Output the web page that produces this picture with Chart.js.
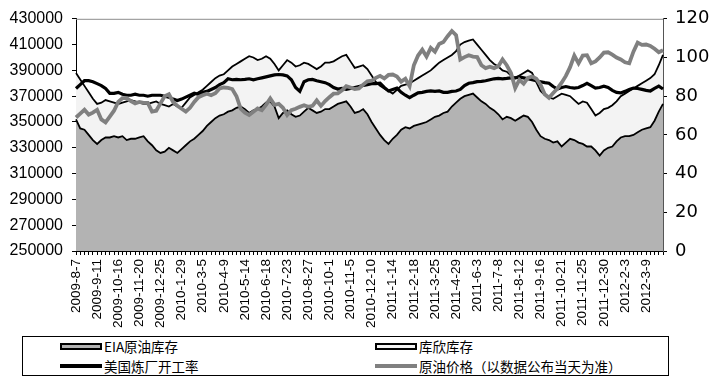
<!DOCTYPE html>
<html>
<head>
<meta charset="utf-8">
<script src="https://cdn.jsdelivr.net/npm/chart.js@4/dist/chart.umd.min.js"></script>
<style>
  html, body { margin: 0; padding: 0; background: #fff; }
  #wrap { position: relative; width: 720px; height: 380px; }
  #legend { position: absolute; left: 22px; top: 336px; width: 647px; height: 40px; border: 1px solid #000; background: #fff; box-sizing: border-box; font-family: "Noto Sans CJK SC", sans-serif; font-size: 13.5px; color: #000; }
  .item { position: absolute; height: 18px; line-height: 18px; white-space: nowrap; }
  .sw { position: absolute; left: 0; }
  .lbl { position: absolute; left: 44px; top: 0; }
</style>
</head>
<body>
<div id="wrap">
  <canvas id="c" width="720" height="380"></canvas>
  <div id="legend"></div>
</div>
<script>
// ---- data ----
const categories = [
"2009-8-7","2009-8-14","2009-8-21","2009-8-28","2009-9-4","2009-9-11","2009-9-18","2009-9-25","2009-10-2","2009-10-9","2009-10-16","2009-10-23","2009-10-30","2009-11-6","2009-11-13","2009-11-20","2009-11-27","2009-12-4","2009-12-11","2009-12-18","2009-12-25",
"2010-1-1","2010-1-8","2010-1-15","2010-1-22","2010-1-29","2010-2-5","2010-2-12","2010-2-19","2010-2-26","2010-3-5","2010-3-12","2010-3-19","2010-3-26","2010-4-2","2010-4-9","2010-4-16","2010-4-23","2010-4-30","2010-5-7","2010-5-14","2010-5-21","2010-5-28","2010-6-4","2010-6-11","2010-6-18","2010-6-25","2010-7-2","2010-7-9","2010-7-16","2010-7-23","2010-7-30","2010-8-6","2010-8-13","2010-8-20","2010-8-27","2010-9-3","2010-9-10","2010-9-17","2010-9-24","2010-10-1","2010-10-8","2010-10-15","2010-10-22","2010-10-29","2010-11-5","2010-11-12","2010-11-19","2010-11-26","2010-12-3","2010-12-10","2010-12-17","2010-12-24","2010-12-31",
"2011-1-7","2011-1-14","2011-1-21","2011-1-28","2011-2-4","2011-2-11","2011-2-18","2011-2-25","2011-3-4","2011-3-11","2011-3-18","2011-3-25","2011-4-1","2011-4-8","2011-4-15","2011-4-22","2011-4-29","2011-5-6","2011-5-13","2011-5-20","2011-5-27","2011-6-3","2011-6-10","2011-6-17","2011-6-24","2011-7-1","2011-7-8","2011-7-15","2011-7-22","2011-7-29","2011-8-5","2011-8-12","2011-8-19","2011-8-26","2011-9-2","2011-9-9","2011-9-16","2011-9-23","2011-9-30","2011-10-7","2011-10-14","2011-10-21","2011-10-28","2011-11-4","2011-11-11","2011-11-18","2011-11-25","2011-12-2","2011-12-9","2011-12-16","2011-12-23","2011-12-30",
"2012-1-6","2012-1-13","2012-1-20","2012-1-27","2012-2-3","2012-2-10","2012-2-17","2012-2-24","2012-3-2","2012-3-9","2012-3-16","2012-3-23","2012-3-30","2012-4-6"
];

const tickLabels = ["2009-8-7","2009-9-11","2009-10-16","2009-11-20","2009-12-25","2010-1-29","2010-3-5","2010-4-9","2010-5-14","2010-6-18","2010-7-23","2010-8-27","2010-10-1","2010-11-5","2010-12-10","2011-1-14","2011-2-18","2011-3-25","2011-4-29","2011-6-3","2011-7-8","2011-8-12","2011-9-16","2011-10-21","2011-11-25","2011-12-30","2012-2-3","2012-3-9"];

const leftTicks = [250000, 270000, 290000, 310000, 330000, 350000, 370000, 390000, 410000, 430000];
const rightTicks = [0, 20, 40, 60, 80, 100, 120];

// EIA crude stocks (thousand barrels)
const eiaStocks = [
352000,345000,344000,340000,336000,333000,336000,338000,338000,339000,338000,339000,336000,337000,337000,338000,339000,335000,332000,328000,
326000,327000,330000,328000,326000,329000,332000,335000,337000,340000,343000,347000,350000,353000,355000,356000,358000,359000,361000,362000,
360000,357000,359000,360000,362000,365000,366000,362000,353000,357000,359000,356000,354000,355000,358000,361000,359000,357000,358000,360000,
360000,362000,364000,365000,366000,362000,357000,358000,360000,356000,350000,345000,340000,336000,333000,337000,340000,344000,346000,345000,
347000,348000,349000,350000,352000,354000,355000,357000,358000,362000,365000,368000,370000,371000,372000,369000,366000,364000,361000,359000,
356000,352000,354000,353000,351000,353000,355000,354000,350000,344000,339000,337000,336000,334000,335000,331000,334000,337000,336000,334000,
333000,331000,331000,328000,324000,328000,330000,331000,335000,338000,339000,339000,340000,342000,344000,345000,346000,351000,358000,364000
];

// Cushing stocks (thousand barrels), stacked on top of EIA stocks
const cushingStocks = [
36000,38000,34000,33000,32000,31000,29000,29000,28000,26000,26000,26000,30000,30000,29000,27000,25000,29000,33000,38000,
38000,36000,32000,36000,36000,32000,33000,34000,34000,33000,32000,31000,31000,31000,31000,31000,32000,34000,34000,35000,
39000,44000,41000,38000,37000,36000,33000,33000,37000,37000,39000,40000,39000,39000,38000,34000,34000,34000,35000,36000,
36000,35000,35000,36000,36000,35000,35000,35000,34000,35000,36000,36000,38000,40000,41000,35000,35000,34000,33000,35000,
35000,36000,37000,38000,38000,39000,41000,41000,42000,40000,40000,42000,42000,42000,42000,41000,40000,38000,37000,36000,
37000,38000,35000,33000,33000,33000,33000,36000,38000,37000,35000,34000,33000,34000,35000,41000,37000,33000,31000,30000,
33000,34000,29000,27000,33000,32000,31000,32000,31000,32000,33000,35000,36000,36000,36000,37000,38000,36000,36000,38000
];

// US refinery utilization (%), right axis
const refineryRate = [
84,86,88,88,87.5,86.5,85.5,84,81.5,81.5,82,81,80.5,80.5,81,80.5,80.5,80,80.5,80.5,
80.5,80,79.5,78.5,77.8,78.5,79.5,80.5,81.5,81,82,82.5,83.5,84.5,86,87,89,88.5,88.7,88.5,
88.7,89,88.5,89,89.5,90,90.5,91,91.2,91,90.5,88.5,84.5,82.5,87.5,88.5,88.7,88,87.5,87,
86,84.5,83.7,84,83.5,84,84.5,85,85.5,86,86.5,86.5,86.7,84.5,82.7,83.5,84.2,82,80.5,79.2,
80.5,81.7,82,82.5,82.7,82.5,82.7,82,82,82.5,82.7,83.5,85.5,86.7,87,87.5,87.7,88,88.5,89,
89.2,89,89.2,89.5,89.5,90,89.5,89,88.5,88,87.5,87,86.7,85,83.7,84.5,85,84.5,84.2,84.5,
85.5,86.7,85.5,84.2,84.5,85.2,84.5,83,82,81.7,82.5,83.5,84.2,84,83.5,83,82.7,84,85.2,83.7
];

// Crude oil price (USD/bbl), right axis
const oilPrice = [
69,71,73,70.5,71.5,73,68,66.5,69.5,72.5,77,79,79,77.5,76.3,77,76.5,76.5,72,72.5,
76.3,80,81,77,75,73.5,72,74,77,79.5,80.5,81.3,80.5,81.5,84,84.5,84.3,83.7,80,73.5,
71.5,70.3,72,73.7,72.8,75.5,78.8,75.5,76,74,70.3,72.8,73.5,74.5,75.3,74.5,75,77.8,75,77.5,
79.5,81.3,81.5,83,85.2,84.5,83.7,84,86,87.7,88,89.5,90.5,89.2,91,91.2,90.2,87.5,89,85.2,
96,101,104,100.5,105,103,107,108,111,113.7,111.5,99,100.2,101.2,100.5,100.2,96,94.5,95.2,94.5,
95.5,99,96,92,84.2,88.5,86.5,89.5,90.2,89,86,81,79.2,81.7,84,87,90.5,95,101,97,
101,101.2,97,98,100,102.5,102.7,101.5,100,99,97.5,97,103,107.7,106.5,106.7,106,104.5,102.7,103.7
];

const seriesNames = ["EIA原油库存", "库欣库存", "美国炼厂开工率", "原油价格（以数据公布当天为准）"];

// ---- chart ----
const stackTop = eiaStocks.map((v, i) => v + cushingStocks[i]);
const FONT_NUM = "Liberation Sans";

const topBorder = {
  id: 'topBorder',
  afterDraw(chart) {
    const a = chart.chartArea, ctx = chart.ctx;
    ctx.save();
    ctx.strokeStyle = '#8c8c8c';
    ctx.lineWidth = 1;
    ctx.beginPath();
    ctx.moveTo(a.left, a.top + 0.5);
    ctx.lineTo(a.right, a.top + 0.5);
    ctx.stroke();
    ctx.restore();
  }
};

new Chart(document.getElementById('c'), {
  type: 'line',
  data: {
    labels: categories,
    datasets: [
      { label: seriesNames[0], data: eiaStocks, yAxisID: 'y', order: 3,
        borderColor: '#000', borderWidth: 1.8, backgroundColor: '#b3b3b3', fill: 'start',
        pointRadius: 0, tension: 0 },
      { label: seriesNames[1], data: stackTop, yAxisID: 'y', order: 2,
        borderColor: '#000', borderWidth: 1.8, backgroundColor: '#f3f3f3', fill: 0,
        pointRadius: 0, tension: 0 },
      { label: seriesNames[2], data: refineryRate, yAxisID: 'y1', order: 1,
        borderColor: '#000', borderWidth: 3.2, fill: false, pointRadius: 0, tension: 0 },
      { label: seriesNames[3], data: oilPrice, yAxisID: 'y1', order: 0,
        borderColor: '#808080', borderWidth: 3.8, fill: false, pointRadius: 0, tension: 0 }
    ]
  },
  options: {
    responsive: false,
    animation: false,
    events: [],
    layout: { padding: { top: 10, left: 0, right: 0, bottom: 0 } },
    plugins: {
      legend: { display: false },
      tooltip: { enabled: false },
      filler: { drawTime: 'beforeDatasetsDraw' }
    },
    scales: {
      x: {
        type: 'category',
        offset: false,
        grid: { display: true, drawOnChartArea: false, drawTicks: true, tickLength: 4, color: '#000', lineWidth: 1 },
        border: { display: true, color: '#000', width: 1 },
        ticks: {
          autoSkip: false, minRotation: 90, maxRotation: 90, padding: 4, color: '#000',
          font: { family: FONT_NUM, size: 13.5 },
          callback: function (value, index) {
            const lab = categories[index];
            return tickLabels.includes(lab) ? lab : '';
          }
        },
        afterFit: (s) => { s.height = 129; }
      },
      y: {
        position: 'left',
        min: leftTicks[0], max: leftTicks[leftTicks.length - 1],
        afterBuildTicks: (s) => { s.ticks = leftTicks.map(v => ({ value: v })); },
        grid: { drawOnChartArea: false, tickLength: 4, color: '#000' },
        border: { display: true, color: '#000', width: 1 },
        ticks: { color: '#000', padding: 9, font: { family: FONT_NUM, size: 16 },
                 callback: (v) => String(v) },
        afterFit: (s) => { s.width = 76; }
      },
      y1: {
        position: 'right',
        min: rightTicks[0], max: rightTicks[rightTicks.length - 1],
        afterBuildTicks: (s) => { s.ticks = rightTicks.map(v => ({ value: v })); },
        grid: { drawOnChartArea: false, tickLength: 4, color: '#000' },
        border: { display: true, color: '#555', width: 1 },
        ticks: { color: '#000', padding: 8, font: { family: 'DejaVu Sans', size: 18 },
                 callback: (v) => String(v) },
        afterFit: (s) => { s.width = 57; }
      }
    }
  },
  plugins: [topBorder]
});

// ---- legend (HTML) ----
const legendItems = [
  { name: seriesNames[0], kind: 'box', fill: '#b3b3b3', x: 37, y: 0 },
  { name: seriesNames[1], kind: 'box', fill: '#f3f3f3', x: 352, y: 0 },
  { name: seriesNames[2], kind: 'line', color: '#000', w: 3.5, x: 37, y: 20 },
  { name: seriesNames[3], kind: 'line', color: '#808080', w: 4, x: 352, y: 20 }
];
const lg = document.getElementById('legend');
legendItems.forEach(it => {
  const d = document.createElement('div');
  d.className = 'item';
  d.style.left = it.x + 'px';
  d.style.top = it.y + 'px';
  const sw = document.createElement('div');
  sw.className = 'sw';
  if (it.kind === 'box') {
    sw.style.cssText = 'position:absolute;left:0;top:6px;width:42px;height:7px;box-sizing:border-box;border:2px solid #000;background:' + it.fill + ';';
  } else {
    sw.style.cssText = 'position:absolute;left:0;top:' + (9 - it.w / 2) + 'px;width:42px;height:' + it.w + 'px;background:' + it.color + ';';
  }
  const t = document.createElement('span');
  t.className = 'lbl';
  t.textContent = it.name;
  d.appendChild(sw);
  d.appendChild(t);
  lg.appendChild(d);
});
</script>
</body>
</html>
